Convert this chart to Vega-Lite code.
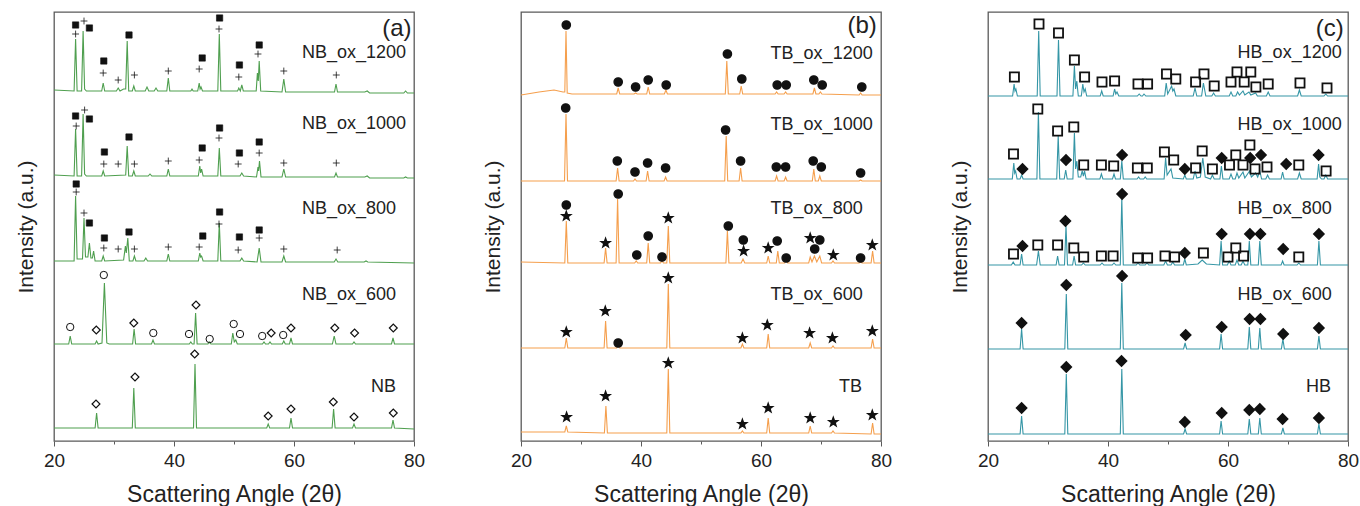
{
"$schema": "https://vega.github.io/schema/vega-lite/v6.json",
"padding": {"left": 14, "top": 11, "right": 0, "bottom": 0},
"bounds": "flush",
"spacing": 107,
"config": {
 "font": "Liberation Sans",
 "view": {"stroke": "#5a5a5a", "strokeWidth": 1.3},
 "axis": {"grid": false, "labelFontSize": 19, "titleFontSize": 23, "titleFontWeight": "normal", "labelColor": "#222", "titleColor": "#222", "tickColor": "#5a5a5a", "domainColor": "#5a5a5a"}
},
"datasets": {
 "aLines": [
  {"s":"1200","x":20,"y":351},{"s":"1200","x":23.35,"y":350},{"s":"1200","x":23.6,"y":402},{"s":"1200","x":23.85,"y":350},{"s":"1200","x":24.6,"y":350},{"s":"1200","x":24.85,"y":410},{"s":"1200","x":25.1,"y":352},{"s":"1200","x":25.4,"y":350},{"s":"1200","x":27.95,"y":350},{"s":"1200","x":28.2,"y":358},{"s":"1200","x":28.45,"y":350},{"s":"1200","x":30.4,"y":350},{"s":"1200","x":30.7,"y":353},{"s":"1200","x":31.0,"y":350},{"s":"1200","x":31.6,"y":352},{"s":"1200","x":31.95,"y":352},{"s":"1200","x":32.2,"y":400},{"s":"1200","x":32.45,"y":350},{"s":"1200","x":33.05,"y":350},{"s":"1200","x":33.3,"y":355},{"s":"1200","x":33.55,"y":350},{"s":"1200","x":35.2,"y":350},{"s":"1200","x":35.5,"y":354},{"s":"1200","x":35.8,"y":350},{"s":"1200","x":36.7,"y":350},{"s":"1200","x":37.0,"y":353},{"s":"1200","x":37.3,"y":350},{"s":"1200","x":38.8,"y":350},{"s":"1200","x":39.05,"y":363},{"s":"1200","x":39.3,"y":350},{"s":"1200","x":42.8,"y":350},{"s":"1200","x":43.0,"y":352},{"s":"1200","x":43.2,"y":350},{"s":"1200","x":43.95,"y":350},{"s":"1200","x":44.2,"y":358},{"s":"1200","x":44.35,"y":352},{"s":"1200","x":44.5,"y":354},{"s":"1200","x":44.75,"y":350},{"s":"1200","x":47.3,"y":350},{"s":"1200","x":47.55,"y":407},{"s":"1200","x":47.8,"y":350},{"s":"1200","x":50.6,"y":350},{"s":"1200","x":50.8,"y":353},{"s":"1200","x":51.05,"y":350},{"s":"1200","x":51.3,"y":356},{"s":"1200","x":51.55,"y":350},{"s":"1200","x":53.7,"y":350},{"s":"1200","x":53.9,"y":368},{"s":"1200","x":54.05,"y":360},{"s":"1200","x":54.2,"y":380},{"s":"1200","x":54.45,"y":350},{"s":"1200","x":58.0,"y":349},{"s":"1200","x":58.3,"y":362},{"s":"1200","x":58.6,"y":349},{"s":"1200","x":66.75,"y":349},{"s":"1200","x":67.0,"y":357},{"s":"1200","x":67.25,"y":349},{"s":"1200","x":71.8,"y":349},{"s":"1200","x":72.2,"y":350},{"s":"1200","x":72.6,"y":348},{"s":"1200","x":78.3,"y":348},{"s":"1200","x":78.6,"y":350},{"s":"1200","x":78.9,"y":348},{"s":"1200","x":80,"y":348},
  {"s":"1000","x":20,"y":266},{"s":"1000","x":23.35,"y":265},{"s":"1000","x":23.6,"y":312},{"s":"1000","x":23.85,"y":265},{"s":"1000","x":24.6,"y":265},{"s":"1000","x":24.85,"y":327},{"s":"1000","x":25.1,"y":267},{"s":"1000","x":25.4,"y":265},{"s":"1000","x":27.95,"y":265},{"s":"1000","x":28.2,"y":270},{"s":"1000","x":28.45,"y":265},{"s":"1000","x":31.95,"y":266},{"s":"1000","x":32.2,"y":295},{"s":"1000","x":32.45,"y":265},{"s":"1000","x":33.05,"y":265},{"s":"1000","x":33.3,"y":270},{"s":"1000","x":33.55,"y":265},{"s":"1000","x":35.7,"y":265},{"s":"1000","x":36.0,"y":267},{"s":"1000","x":36.3,"y":265},{"s":"1000","x":38.8,"y":265},{"s":"1000","x":39.05,"y":272},{"s":"1000","x":39.3,"y":265},{"s":"1000","x":44.05,"y":265},{"s":"1000","x":44.3,"y":275},{"s":"1000","x":44.45,"y":268},{"s":"1000","x":44.6,"y":272},{"s":"1000","x":44.85,"y":265},{"s":"1000","x":47.3,"y":265},{"s":"1000","x":47.55,"y":293},{"s":"1000","x":47.8,"y":265},{"s":"1000","x":51.0,"y":265},{"s":"1000","x":51.3,"y":268},{"s":"1000","x":51.6,"y":265},{"s":"1000","x":53.75,"y":264},{"s":"1000","x":54.0,"y":274},{"s":"1000","x":54.1,"y":270},{"s":"1000","x":54.25,"y":280},{"s":"1000","x":54.5,"y":264},{"s":"1000","x":58.0,"y":264},{"s":"1000","x":58.3,"y":272},{"s":"1000","x":58.6,"y":264},{"s":"1000","x":66.75,"y":264},{"s":"1000","x":67.0,"y":268},{"s":"1000","x":67.25,"y":264},{"s":"1000","x":71.8,"y":264},{"s":"1000","x":72.2,"y":265},{"s":"1000","x":72.6,"y":263},{"s":"1000","x":78.3,"y":263},{"s":"1000","x":78.6,"y":264},{"s":"1000","x":78.9,"y":263},{"s":"1000","x":80,"y":263},
  {"s":"800","x":20,"y":180},{"s":"800","x":23.35,"y":180},{"s":"800","x":23.6,"y":245},{"s":"800","x":23.85,"y":182},{"s":"800","x":24.75,"y":182},{"s":"800","x":25.0,"y":223},{"s":"800","x":25.25,"y":184},{"s":"800","x":25.65,"y":184},{"s":"800","x":25.9,"y":198},{"s":"800","x":26.15,"y":183},{"s":"800","x":26.4,"y":183},{"s":"800","x":26.6,"y":190},{"s":"800","x":26.85,"y":180},{"s":"800","x":27.95,"y":180},{"s":"800","x":28.2,"y":185},{"s":"800","x":28.45,"y":180},{"s":"800","x":31.6,"y":181},{"s":"800","x":31.9,"y":195},{"s":"800","x":32.05,"y":188},{"s":"800","x":32.3,"y":203},{"s":"800","x":32.55,"y":180},{"s":"800","x":33.15,"y":180},{"s":"800","x":33.4,"y":185},{"s":"800","x":33.65,"y":180},{"s":"800","x":35.0,"y":180},{"s":"800","x":35.3,"y":183},{"s":"800","x":35.6,"y":180},{"s":"800","x":38.8,"y":180},{"s":"800","x":39.05,"y":187},{"s":"800","x":39.3,"y":180},{"s":"800","x":44.05,"y":180},{"s":"800","x":44.3,"y":188},{"s":"800","x":44.45,"y":184},{"s":"800","x":44.6,"y":185},{"s":"800","x":44.85,"y":180},{"s":"800","x":47.3,"y":180},{"s":"800","x":47.55,"y":218},{"s":"800","x":47.8,"y":180},{"s":"800","x":51.0,"y":180},{"s":"800","x":51.3,"y":183},{"s":"800","x":51.6,"y":180},{"s":"800","x":53.85,"y":179},{"s":"800","x":54.2,"y":193},{"s":"800","x":54.5,"y":179},{"s":"800","x":58.0,"y":179},{"s":"800","x":58.3,"y":185},{"s":"800","x":58.6,"y":179},{"s":"800","x":66.7,"y":179},{"s":"800","x":67.0,"y":182},{"s":"800","x":67.3,"y":179},{"s":"800","x":71.7,"y":179},{"s":"800","x":72.0,"y":180},{"s":"800","x":72.3,"y":179},{"s":"800","x":80,"y":178},
  {"s":"600","x":20,"y":97},{"s":"600","x":22.45,"y":97},{"s":"600","x":22.7,"y":105},{"s":"600","x":22.95,"y":97},{"s":"600","x":26.85,"y":97},{"s":"600","x":27.1,"y":100},{"s":"600","x":27.35,"y":97},{"s":"600","x":28.0,"y":98},{"s":"600","x":28.4,"y":158},{"s":"600","x":28.8,"y":98},{"s":"600","x":29.2,"y":97},{"s":"600","x":33.1,"y":97},{"s":"600","x":33.35,"y":112},{"s":"600","x":33.6,"y":97},{"s":"600","x":36.25,"y":97},{"s":"600","x":36.5,"y":101},{"s":"600","x":36.75,"y":97},{"s":"600","x":42.55,"y":97},{"s":"600","x":42.8,"y":99},{"s":"600","x":43.05,"y":97},{"s":"600","x":43.35,"y":97},{"s":"600","x":43.6,"y":128},{"s":"600","x":43.85,"y":97},{"s":"600","x":45.65,"y":97},{"s":"600","x":45.9,"y":99},{"s":"600","x":46.15,"y":97},{"s":"600","x":49.55,"y":97},{"s":"600","x":49.8,"y":108},{"s":"600","x":50.05,"y":99},{"s":"600","x":50.3,"y":101},{"s":"600","x":50.55,"y":97},{"s":"600","x":54.75,"y":97},{"s":"600","x":55.0,"y":99},{"s":"600","x":55.25,"y":97},{"s":"600","x":55.75,"y":97},{"s":"600","x":56.0,"y":99},{"s":"600","x":56.25,"y":97},{"s":"600","x":58.05,"y":97},{"s":"600","x":58.3,"y":100},{"s":"600","x":58.55,"y":97},{"s":"600","x":59.25,"y":97},{"s":"600","x":59.5,"y":103},{"s":"600","x":59.75,"y":97},{"s":"600","x":66.4,"y":97},{"s":"600","x":66.7,"y":105},{"s":"600","x":67.0,"y":97},{"s":"600","x":69.75,"y":97},{"s":"600","x":70.0,"y":99},{"s":"600","x":70.25,"y":97},{"s":"600","x":76.25,"y":97},{"s":"600","x":76.5,"y":103},{"s":"600","x":76.75,"y":97},{"s":"600","x":80,"y":97},
  {"s":"0","x":20,"y":13},{"s":"0","x":26.85,"y":13},{"s":"0","x":27.1,"y":28},{"s":"0","x":27.35,"y":13},{"s":"0","x":33.05,"y":13},{"s":"0","x":33.3,"y":53},{"s":"0","x":33.55,"y":13},{"s":"0","x":43.25,"y":13},{"s":"0","x":43.5,"y":77},{"s":"0","x":43.75,"y":13},{"s":"0","x":55.45,"y":13},{"s":"0","x":55.7,"y":17},{"s":"0","x":55.95,"y":13},{"s":"0","x":59.25,"y":13},{"s":"0","x":59.5,"y":23},{"s":"0","x":59.75,"y":13},{"s":"0","x":66.35,"y":13},{"s":"0","x":66.6,"y":32},{"s":"0","x":66.85,"y":13},{"s":"0","x":69.75,"y":13},{"s":"0","x":70.0,"y":17},{"s":"0","x":70.25,"y":13},{"s":"0","x":76.25,"y":13},{"s":"0","x":76.5,"y":21},{"s":"0","x":76.75,"y":13},{"s":"0","x":80,"y":12}
 ],
 "aMarks": [
  {"x":23.6,"y":416,"m":"sq"},{"x":23.6,"y":407,"m":"plus"},{"x":25.0,"y":420,"m":"plus"},{"x":25.9,"y":413,"m":"sq"},{"x":28.3,"y":380,"m":"sq"},{"x":28.2,"y":368,"m":"plus"},{"x":30.7,"y":361,"m":"plus"},{"x":32.5,"y":406,"m":"sq"},{"x":33.4,"y":366,"m":"plus"},{"x":39.05,"y":370,"m":"plus"},{"x":44.7,"y":383,"m":"sq"},{"x":44.2,"y":372,"m":"plus"},{"x":47.6,"y":423,"m":"sq"},{"x":47.5,"y":412,"m":"plus"},{"x":50.9,"y":376,"m":"sq"},{"x":50.8,"y":364,"m":"plus"},{"x":54.2,"y":396,"m":"sq"},{"x":54.0,"y":387,"m":"plus"},{"x":58.3,"y":370,"m":"plus"},{"x":67.05,"y":366,"m":"plus"},
  {"x":23.6,"y":325,"m":"sq"},{"x":23.7,"y":315,"m":"plus"},{"x":25.1,"y":331,"m":"plus"},{"x":25.9,"y":322,"m":"sq"},{"x":28.4,"y":289,"m":"sq"},{"x":28.3,"y":277,"m":"plus"},{"x":30.7,"y":277,"m":"plus"},{"x":32.5,"y":304,"m":"sq"},{"x":33.4,"y":277,"m":"plus"},{"x":39.05,"y":280,"m":"plus"},{"x":44.7,"y":293,"m":"sq"},{"x":44.2,"y":281,"m":"plus"},{"x":47.6,"y":313,"m":"sq"},{"x":47.5,"y":303,"m":"plus"},{"x":50.9,"y":288,"m":"sq"},{"x":50.7,"y":277,"m":"plus"},{"x":54.2,"y":299,"m":"sq"},{"x":54.2,"y":288,"m":"plus"},{"x":58.3,"y":278,"m":"plus"},{"x":67.05,"y":278,"m":"plus"},
  {"x":23.7,"y":257,"m":"sq"},{"x":23.7,"y":249,"m":"plus"},{"x":25.0,"y":228,"m":"plus"},{"x":25.9,"y":218,"m":"sq"},{"x":28.4,"y":203,"m":"sq"},{"x":28.3,"y":193,"m":"plus"},{"x":30.7,"y":192,"m":"plus"},{"x":32.5,"y":209,"m":"sq"},{"x":33.4,"y":192,"m":"plus"},{"x":39.05,"y":194,"m":"plus"},{"x":44.8,"y":205,"m":"sq"},{"x":44.2,"y":194,"m":"plus"},{"x":47.6,"y":229,"m":"sq"},{"x":47.5,"y":217,"m":"plus"},{"x":50.9,"y":204,"m":"sq"},{"x":50.7,"y":191,"m":"plus"},{"x":54.2,"y":211,"m":"sq"},{"x":54.2,"y":203,"m":"plus"},{"x":58.3,"y":192,"m":"plus"},{"x":67.2,"y":191,"m":"plus"},
  {"x":22.7,"y":114,"m":"oc"},{"x":27.05,"y":111,"m":"od"},{"x":28.3,"y":166,"m":"oc"},{"x":33.3,"y":118,"m":"od"},{"x":36.55,"y":108,"m":"oc"},{"x":42.5,"y":107,"m":"oc"},{"x":43.67,"y":136,"m":"od"},{"x":45.95,"y":102,"m":"oc"},{"x":49.95,"y":117,"m":"oc"},{"x":51.0,"y":107,"m":"oc"},{"x":54.7,"y":105,"m":"oc"},{"x":56.2,"y":108,"m":"od"},{"x":58.2,"y":106,"m":"oc"},{"x":59.5,"y":113,"m":"od"},{"x":66.8,"y":113,"m":"od"},{"x":70.1,"y":108,"m":"od"},{"x":76.55,"y":113,"m":"od"},
  {"x":27.0,"y":37,"m":"od"},{"x":33.5,"y":64,"m":"od"},{"x":43.45,"y":87,"m":"od"},{"x":55.7,"y":25,"m":"od"},{"x":59.5,"y":32,"m":"od"},{"x":66.55,"y":39,"m":"od"},{"x":70.0,"y":24,"m":"od"},{"x":76.55,"y":28,"m":"od"}
 ],
 "aText": [
  {"x":61.33,"y":388,"t":"NB_ox_1200"},{"x":61.33,"y":317,"t":"NB_ox_1000"},{"x":61.33,"y":232,"t":"NB_ox_800"},{"x":61.33,"y":146,"t":"NB_ox_600"},{"x":72.83,"y":54,"t":"NB"}
 ],
 "bLines": [
  {"s":"1200","x":20,"y":346},{"s":"1200","x":23,"y":349},{"s":"1200","x":25.5,"y":351},{"s":"1200","x":27.0,"y":349},{"s":"1200","x":27.3,"y":349},{"s":"1200","x":27.5,"y":410},{"s":"1200","x":27.7,"y":348},{"s":"1200","x":28.5,"y":347},{"s":"1200","x":35.95,"y":347},{"s":"1200","x":36.2,"y":353},{"s":"1200","x":36.45,"y":347},{"s":"1200","x":38.85,"y":347},{"s":"1200","x":39.1,"y":348},{"s":"1200","x":39.35,"y":347},{"s":"1200","x":40.95,"y":347},{"s":"1200","x":41.2,"y":354},{"s":"1200","x":41.45,"y":347},{"s":"1200","x":43.9,"y":347},{"s":"1200","x":44.15,"y":351},{"s":"1200","x":44.4,"y":347},{"s":"1200","x":54.05,"y":347},{"s":"1200","x":54.3,"y":380},{"s":"1200","x":54.55,"y":347},{"s":"1200","x":56.45,"y":347},{"s":"1200","x":56.7,"y":355},{"s":"1200","x":56.95,"y":347},{"s":"1200","x":62.35,"y":347},{"s":"1200","x":62.6,"y":349},{"s":"1200","x":62.85,"y":347},{"s":"1200","x":63.85,"y":347},{"s":"1200","x":64.1,"y":349},{"s":"1200","x":64.35,"y":347},{"s":"1200","x":68.65,"y":347},{"s":"1200","x":68.9,"y":353},{"s":"1200","x":69.15,"y":347},{"s":"1200","x":69.65,"y":347},{"s":"1200","x":69.9,"y":349},{"s":"1200","x":70.15,"y":347},{"s":"1200","x":76.35,"y":346},{"s":"1200","x":76.6,"y":348},{"s":"1200","x":76.85,"y":346},{"s":"1200","x":80,"y":346},
  {"s":"1000","x":20,"y":260},{"s":"1000","x":27.25,"y":260},{"s":"1000","x":27.5,"y":327},{"s":"1000","x":27.75,"y":260},{"s":"1000","x":35.85,"y":260},{"s":"1000","x":36.1,"y":273},{"s":"1000","x":36.35,"y":260},{"s":"1000","x":38.75,"y":260},{"s":"1000","x":39.0,"y":262},{"s":"1000","x":39.25,"y":260},{"s":"1000","x":40.85,"y":260},{"s":"1000","x":41.1,"y":270},{"s":"1000","x":41.35,"y":260},{"s":"1000","x":43.85,"y":260},{"s":"1000","x":44.1,"y":264},{"s":"1000","x":44.35,"y":260},{"s":"1000","x":53.95,"y":260},{"s":"1000","x":54.2,"y":305},{"s":"1000","x":54.45,"y":260},{"s":"1000","x":56.35,"y":260},{"s":"1000","x":56.6,"y":273},{"s":"1000","x":56.85,"y":260},{"s":"1000","x":62.35,"y":260},{"s":"1000","x":62.6,"y":265},{"s":"1000","x":62.85,"y":260},{"s":"1000","x":63.85,"y":260},{"s":"1000","x":64.1,"y":264},{"s":"1000","x":64.35,"y":260},{"s":"1000","x":68.55,"y":260},{"s":"1000","x":68.8,"y":272},{"s":"1000","x":69.05,"y":260},{"s":"1000","x":69.55,"y":260},{"s":"1000","x":69.8,"y":265},{"s":"1000","x":70.05,"y":260},{"s":"1000","x":76.35,"y":260},{"s":"1000","x":76.6,"y":261},{"s":"1000","x":76.85,"y":260},{"s":"1000","x":80,"y":260},
  {"s":"800","x":20,"y":179},{"s":"800","x":27.3,"y":178},{"s":"800","x":27.55,"y":220},{"s":"800","x":27.8,"y":178},{"s":"800","x":33.85,"y":178},{"s":"800","x":34.1,"y":193},{"s":"800","x":34.35,"y":178},{"s":"800","x":35.85,"y":178},{"s":"800","x":36.1,"y":242},{"s":"800","x":36.35,"y":178},{"s":"800","x":38.95,"y":178},{"s":"800","x":39.2,"y":180},{"s":"800","x":39.45,"y":178},{"s":"800","x":40.95,"y":178},{"s":"800","x":41.2,"y":198},{"s":"800","x":41.45,"y":178},{"s":"800","x":43.25,"y":178},{"s":"800","x":43.5,"y":180},{"s":"800","x":43.75,"y":178},{"s":"800","x":44.3,"y":178},{"s":"800","x":44.55,"y":215},{"s":"800","x":44.8,"y":178},{"s":"800","x":54.15,"y":178},{"s":"800","x":54.4,"y":210},{"s":"800","x":54.65,"y":178},{"s":"800","x":56.7,"y":178},{"s":"800","x":57.0,"y":182},{"s":"800","x":57.3,"y":178},{"s":"800","x":60.95,"y":178},{"s":"800","x":61.2,"y":185},{"s":"800","x":61.45,"y":178},{"s":"800","x":62.55,"y":178},{"s":"800","x":62.8,"y":190},{"s":"800","x":63.05,"y":178},{"s":"800","x":63.95,"y":178},{"s":"800","x":64.2,"y":181},{"s":"800","x":64.45,"y":178},{"s":"800","x":67.95,"y":178},{"s":"800","x":68.2,"y":184},{"s":"800","x":68.5,"y":179},{"s":"800","x":68.9,"y":185},{"s":"800","x":69.3,"y":179},{"s":"800","x":69.8,"y":185},{"s":"800","x":70.1,"y":178},{"s":"800","x":71.75,"y":178},{"s":"800","x":72.0,"y":180},{"s":"800","x":72.25,"y":178},{"s":"800","x":76.35,"y":178},{"s":"800","x":76.6,"y":179},{"s":"800","x":76.85,"y":178},{"s":"800","x":78.35,"y":178},{"s":"800","x":78.6,"y":190},{"s":"800","x":78.85,"y":178},{"s":"800","x":80,"y":178},
  {"s":"600","x":20,"y":93},{"s":"600","x":27.3,"y":93},{"s":"600","x":27.55,"y":103},{"s":"600","x":27.8,"y":93},{"s":"600","x":33.85,"y":93},{"s":"600","x":34.1,"y":120},{"s":"600","x":34.35,"y":93},{"s":"600","x":35.95,"y":93},{"s":"600","x":36.2,"y":95},{"s":"600","x":36.45,"y":93},{"s":"600","x":44.3,"y":93},{"s":"600","x":44.55,"y":157},{"s":"600","x":44.8,"y":93},{"s":"600","x":56.65,"y":93},{"s":"600","x":56.9,"y":97},{"s":"600","x":57.15,"y":93},{"s":"600","x":60.95,"y":93},{"s":"600","x":61.2,"y":107},{"s":"600","x":61.45,"y":93},{"s":"600","x":67.95,"y":93},{"s":"600","x":68.2,"y":98},{"s":"600","x":68.45,"y":93},{"s":"600","x":71.75,"y":93},{"s":"600","x":72.0,"y":95},{"s":"600","x":72.25,"y":93},{"s":"600","x":78.35,"y":93},{"s":"600","x":78.6,"y":102},{"s":"600","x":78.85,"y":93},{"s":"600","x":80,"y":93},
  {"s":"0","x":20,"y":9},{"s":"0","x":27.3,"y":9},{"s":"0","x":27.55,"y":15},{"s":"0","x":27.8,"y":9},{"s":"0","x":33.9,"y":8},{"s":"0","x":34.15,"y":35},{"s":"0","x":34.4,"y":8},{"s":"0","x":44.3,"y":8},{"s":"0","x":44.55,"y":72},{"s":"0","x":44.8,"y":8},{"s":"0","x":56.65,"y":8},{"s":"0","x":56.9,"y":10},{"s":"0","x":57.15,"y":8},{"s":"0","x":60.95,"y":8},{"s":"0","x":61.2,"y":23},{"s":"0","x":61.45,"y":8},{"s":"0","x":67.95,"y":8},{"s":"0","x":68.2,"y":15},{"s":"0","x":68.45,"y":8},{"s":"0","x":71.75,"y":8},{"s":"0","x":72.0,"y":10},{"s":"0","x":72.25,"y":8},{"s":"0","x":78.35,"y":7},{"s":"0","x":78.6,"y":18},{"s":"0","x":78.85,"y":7},{"s":"0","x":80,"y":7}
 ],
 "bMarks": [
  {"x":27.55,"y":416,"m":"fc"},{"x":36.2,"y":359,"m":"fc"},{"x":39.1,"y":354,"m":"fc"},{"x":41.2,"y":361,"m":"fc"},{"x":44.2,"y":356,"m":"fc"},{"x":54.4,"y":387,"m":"fc"},{"x":56.8,"y":362,"m":"fc"},{"x":62.7,"y":356,"m":"fc"},{"x":64.2,"y":356,"m":"fc"},{"x":68.8,"y":361,"m":"fc"},{"x":70.2,"y":356,"m":"fc"},{"x":76.8,"y":354,"m":"fc"},
  {"x":27.45,"y":333,"m":"fc"},{"x":36.05,"y":280,"m":"fc"},{"x":39.0,"y":269,"m":"fc"},{"x":41.1,"y":278,"m":"fc"},{"x":44.1,"y":273,"m":"fc"},{"x":54.1,"y":311,"m":"fc"},{"x":56.6,"y":280,"m":"fc"},{"x":62.55,"y":274,"m":"fc"},{"x":64.1,"y":274,"m":"fc"},{"x":68.7,"y":280,"m":"fc"},{"x":70.05,"y":274,"m":"fc"},{"x":76.6,"y":268,"m":"fc"},
  {"x":27.55,"y":236,"m":"fc"},{"x":27.55,"y":225,"m":"star"},{"x":34.1,"y":198,"m":"star"},{"x":36.2,"y":247,"m":"fc"},{"x":39.3,"y":186,"m":"fc"},{"x":41.2,"y":205,"m":"fc"},{"x":43.5,"y":184,"m":"fc"},{"x":44.55,"y":223,"m":"star"},{"x":54.55,"y":215,"m":"fc"},{"x":57.05,"y":201,"m":"fc"},{"x":57.1,"y":190,"m":"star"},{"x":61.2,"y":193,"m":"star"},{"x":62.7,"y":200,"m":"fc"},{"x":64.2,"y":183,"m":"fc"},{"x":68.2,"y":203,"m":"star"},{"x":69.8,"y":201,"m":"fc"},{"x":68.95,"y":192,"m":"fc"},{"x":72.05,"y":186,"m":"star"},{"x":76.6,"y":183,"m":"fc"},{"x":78.55,"y":196,"m":"star"},
  {"x":27.55,"y":109,"m":"star"},{"x":34.05,"y":130,"m":"star"},{"x":36.2,"y":98,"m":"fc"},{"x":44.55,"y":163,"m":"star"},{"x":56.9,"y":103,"m":"star"},{"x":61.05,"y":116,"m":"star"},{"x":68.1,"y":108,"m":"star"},{"x":71.9,"y":103,"m":"star"},{"x":78.55,"y":110,"m":"star"},
  {"x":27.6,"y":24,"m":"star"},{"x":34.1,"y":45,"m":"star"},{"x":44.55,"y":78,"m":"star"},{"x":56.9,"y":17,"m":"star"},{"x":61.2,"y":33,"m":"star"},{"x":68.2,"y":23,"m":"star"},{"x":72.05,"y":19,"m":"star"},{"x":78.55,"y":26,"m":"star"}
 ],
 "bText": [
  {"x":61.6,"y":387,"t":"TB_ox_1200"},{"x":61.6,"y":316,"t":"TB_ox_1000"},{"x":61.6,"y":232,"t":"TB_ox_800"},{"x":61.6,"y":146,"t":"TB_ox_600"},{"x":73.0,"y":54,"t":"TB"}
 ],
 "cLines": [
  {"s":"1200","x":20,"y":345},{"s":"1200","x":24.1,"y":345},{"s":"1200","x":24.35,"y":357},{"s":"1200","x":24.5,"y":350},{"s":"1200","x":24.65,"y":352},{"s":"1200","x":24.9,"y":345},{"s":"1200","x":28.2,"y":345},{"s":"1200","x":28.45,"y":410},{"s":"1200","x":28.7,"y":345},{"s":"1200","x":31.5,"y":345},{"s":"1200","x":31.75,"y":401},{"s":"1200","x":32.0,"y":345},{"s":"1200","x":34.15,"y":345},{"s":"1200","x":34.4,"y":375},{"s":"1200","x":34.6,"y":352},{"s":"1200","x":34.8,"y":360},{"s":"1200","x":35.05,"y":345},{"s":"1200","x":35.55,"y":345},{"s":"1200","x":35.8,"y":357},{"s":"1200","x":36.0,"y":349},{"s":"1200","x":36.2,"y":352},{"s":"1200","x":36.45,"y":345},{"s":"1200","x":38.7,"y":345},{"s":"1200","x":38.95,"y":350},{"s":"1200","x":39.2,"y":345},{"s":"1200","x":40.85,"y":345},{"s":"1200","x":41.1,"y":352},{"s":"1200","x":41.3,"y":347},{"s":"1200","x":41.5,"y":349},{"s":"1200","x":41.8,"y":345},{"s":"1200","x":44.9,"y":345},{"s":"1200","x":45.2,"y":347},{"s":"1200","x":45.5,"y":345},{"s":"1200","x":45.75,"y":345},{"s":"1200","x":46.0,"y":347},{"s":"1200","x":46.3,"y":345},{"s":"1200","x":49.45,"y":345},{"s":"1200","x":49.7,"y":358},{"s":"1200","x":49.95,"y":347},{"s":"1200","x":50.6,"y":355},{"s":"1200","x":50.8,"y":350},{"s":"1200","x":51.0,"y":352},{"s":"1200","x":51.3,"y":345},{"s":"1200","x":54.2,"y":345},{"s":"1200","x":54.5,"y":353},{"s":"1200","x":54.8,"y":345},{"s":"1200","x":55.6,"y":345},{"s":"1200","x":55.9,"y":358},{"s":"1200","x":56.3,"y":345},{"s":"1200","x":57.3,"y":345},{"s":"1200","x":57.6,"y":348},{"s":"1200","x":57.9,"y":345},{"s":"1200","x":60.2,"y":345},{"s":"1200","x":60.5,"y":349},{"s":"1200","x":60.8,"y":345},{"s":"1200","x":61.3,"y":345},{"s":"1200","x":61.6,"y":349},{"s":"1200","x":61.9,"y":346},{"s":"1200","x":62.5,"y":350},{"s":"1200","x":62.8,"y":346},{"s":"1200","x":63.5,"y":349},{"s":"1200","x":63.8,"y":346},{"s":"1200","x":64.6,"y":348},{"s":"1200","x":64.9,"y":345},{"s":"1200","x":66.4,"y":345},{"s":"1200","x":66.7,"y":349},{"s":"1200","x":67.0,"y":345},{"s":"1200","x":71.6,"y":345},{"s":"1200","x":71.9,"y":351},{"s":"1200","x":72.2,"y":345},{"s":"1200","x":76.0,"y":345},{"s":"1200","x":76.3,"y":347},{"s":"1200","x":76.6,"y":345},{"s":"1200","x":80,"y":345},
  {"s":"1000","x":20,"y":262},{"s":"1000","x":24.05,"y":262},{"s":"1000","x":24.3,"y":278},{"s":"1000","x":24.45,"y":268},{"s":"1000","x":24.6,"y":270},{"s":"1000","x":24.85,"y":262},{"s":"1000","x":25.35,"y":262},{"s":"1000","x":25.6,"y":266},{"s":"1000","x":25.85,"y":262},{"s":"1000","x":28.15,"y":262},{"s":"1000","x":28.4,"y":329},{"s":"1000","x":28.65,"y":262},{"s":"1000","x":31.45,"y":262},{"s":"1000","x":31.7,"y":305},{"s":"1000","x":31.95,"y":262},{"s":"1000","x":32.7,"y":262},{"s":"1000","x":32.95,"y":271},{"s":"1000","x":33.2,"y":262},{"s":"1000","x":34.15,"y":262},{"s":"1000","x":34.4,"y":308},{"s":"1000","x":34.6,"y":272},{"s":"1000","x":34.8,"y":280},{"s":"1000","x":35.05,"y":264},{"s":"1000","x":35.45,"y":264},{"s":"1000","x":35.7,"y":270},{"s":"1000","x":35.9,"y":265},{"s":"1000","x":36.1,"y":270},{"s":"1000","x":36.35,"y":262},{"s":"1000","x":38.65,"y":262},{"s":"1000","x":38.9,"y":267},{"s":"1000","x":39.15,"y":262},{"s":"1000","x":40.75,"y":262},{"s":"1000","x":41.0,"y":267},{"s":"1000","x":41.25,"y":262},{"s":"1000","x":42.05,"y":262},{"s":"1000","x":42.3,"y":280},{"s":"1000","x":42.55,"y":262},{"s":"1000","x":44.85,"y":262},{"s":"1000","x":45.1,"y":264},{"s":"1000","x":45.35,"y":262},{"s":"1000","x":45.95,"y":262},{"s":"1000","x":46.2,"y":264},{"s":"1000","x":46.45,"y":262},{"s":"1000","x":49.35,"y":262},{"s":"1000","x":49.6,"y":283},{"s":"1000","x":49.85,"y":266},{"s":"1000","x":50.5,"y":272},{"s":"1000","x":50.8,"y":263},{"s":"1000","x":52.55,"y":262},{"s":"1000","x":52.8,"y":266},{"s":"1000","x":53.05,"y":262},{"s":"1000","x":54.2,"y":262},{"s":"1000","x":54.5,"y":270},{"s":"1000","x":54.8,"y":263},{"s":"1000","x":55.4,"y":264},{"s":"1000","x":55.8,"y":283},{"s":"1000","x":56.2,"y":264},{"s":"1000","x":57.1,"y":262},{"s":"1000","x":57.4,"y":266},{"s":"1000","x":57.7,"y":262},{"s":"1000","x":58.65,"y":262},{"s":"1000","x":58.9,"y":275},{"s":"1000","x":59.15,"y":262},{"s":"1000","x":60.2,"y":262},{"s":"1000","x":60.5,"y":267},{"s":"1000","x":60.8,"y":262},{"s":"1000","x":61.2,"y":262},{"s":"1000","x":61.5,"y":268},{"s":"1000","x":61.8,"y":263},{"s":"1000","x":62.5,"y":269},{"s":"1000","x":62.8,"y":263},{"s":"1000","x":63.6,"y":270},{"s":"1000","x":63.9,"y":264},{"s":"1000","x":64.6,"y":268},{"s":"1000","x":64.95,"y":264},{"s":"1000","x":65.3,"y":270},{"s":"1000","x":65.6,"y":262},{"s":"1000","x":66.3,"y":262},{"s":"1000","x":66.6,"y":266},{"s":"1000","x":66.9,"y":262},{"s":"1000","x":68.85,"y":262},{"s":"1000","x":69.1,"y":269},{"s":"1000","x":69.35,"y":262},{"s":"1000","x":71.6,"y":262},{"s":"1000","x":71.9,"y":268},{"s":"1000","x":72.2,"y":262},{"s":"1000","x":74.85,"y":262},{"s":"1000","x":75.1,"y":277},{"s":"1000","x":75.3,"y":264},{"s":"1000","x":75.6,"y":262},{"s":"1000","x":76.0,"y":262},{"s":"1000","x":76.3,"y":266},{"s":"1000","x":76.6,"y":262},{"s":"1000","x":80,"y":262},
  {"s":"800","x":20,"y":176},{"s":"800","x":23.9,"y":176},{"s":"800","x":24.2,"y":179},{"s":"800","x":24.5,"y":176},{"s":"800","x":25.35,"y":176},{"s":"800","x":25.6,"y":187},{"s":"800","x":25.85,"y":176},{"s":"800","x":28.1,"y":176},{"s":"800","x":28.4,"y":190},{"s":"800","x":28.7,"y":176},{"s":"800","x":31.35,"y":176},{"s":"800","x":31.6,"y":185},{"s":"800","x":31.85,"y":176},{"s":"800","x":32.75,"y":176},{"s":"800","x":33.0,"y":215},{"s":"800","x":33.25,"y":176},{"s":"800","x":34.1,"y":176},{"s":"800","x":34.35,"y":185},{"s":"800","x":34.6,"y":176},{"s":"800","x":35.6,"y":176},{"s":"800","x":35.9,"y":178},{"s":"800","x":36.2,"y":176},{"s":"800","x":38.7,"y":176},{"s":"800","x":39.0,"y":178},{"s":"800","x":39.3,"y":176},{"s":"800","x":40.7,"y":176},{"s":"800","x":41.0,"y":178},{"s":"800","x":41.3,"y":176},{"s":"800","x":42.05,"y":176},{"s":"800","x":42.3,"y":243},{"s":"800","x":42.55,"y":176},{"s":"800","x":44.7,"y":176},{"s":"800","x":45.0,"y":178},{"s":"800","x":45.3,"y":176},{"s":"800","x":46.2,"y":176},{"s":"800","x":46.5,"y":178},{"s":"800","x":46.8,"y":176},{"s":"800","x":49.3,"y":176},{"s":"800","x":49.6,"y":180},{"s":"800","x":49.9,"y":176},{"s":"800","x":50.5,"y":176},{"s":"800","x":50.8,"y":179},{"s":"800","x":51.1,"y":176},{"s":"800","x":52.55,"y":176},{"s":"800","x":52.8,"y":182},{"s":"800","x":53.05,"y":176},{"s":"800","x":55.0,"y":177},{"s":"800","x":55.7,"y":181},{"s":"800","x":56.4,"y":177},{"s":"800","x":58.6,"y":176},{"s":"800","x":58.85,"y":200},{"s":"800","x":59.1,"y":176},{"s":"800","x":59.9,"y":176},{"s":"800","x":60.2,"y":180},{"s":"800","x":60.5,"y":176},{"s":"800","x":61.2,"y":176},{"s":"800","x":61.5,"y":181},{"s":"800","x":61.8,"y":176},{"s":"800","x":62.2,"y":176},{"s":"800","x":62.5,"y":180},{"s":"800","x":62.8,"y":176},{"s":"800","x":63.3,"y":176},{"s":"800","x":63.55,"y":200},{"s":"800","x":63.8,"y":176},{"s":"800","x":65.05,"y":176},{"s":"800","x":65.3,"y":200},{"s":"800","x":65.55,"y":176},{"s":"800","x":68.85,"y":176},{"s":"800","x":69.1,"y":180},{"s":"800","x":69.35,"y":176},{"s":"800","x":71.5,"y":176},{"s":"800","x":71.8,"y":178},{"s":"800","x":72.1,"y":176},{"s":"800","x":74.9,"y":176},{"s":"800","x":75.15,"y":200},{"s":"800","x":75.4,"y":176},{"s":"800","x":80,"y":176},
  {"s":"600","x":20,"y":92},{"s":"600","x":25.35,"y":92},{"s":"600","x":25.6,"y":112},{"s":"600","x":25.85,"y":92},{"s":"600","x":32.8,"y":92},{"s":"600","x":33.05,"y":147},{"s":"600","x":33.3,"y":92},{"s":"600","x":42.05,"y":92},{"s":"600","x":42.3,"y":158},{"s":"600","x":42.55,"y":92},{"s":"600","x":52.6,"y":92},{"s":"600","x":52.85,"y":98},{"s":"600","x":53.1,"y":92},{"s":"600","x":58.6,"y":92},{"s":"600","x":58.85,"y":107},{"s":"600","x":59.1,"y":92},{"s":"600","x":63.3,"y":92},{"s":"600","x":63.55,"y":114},{"s":"600","x":63.8,"y":92},{"s":"600","x":65.05,"y":92},{"s":"600","x":65.3,"y":113},{"s":"600","x":65.55,"y":92},{"s":"600","x":68.9,"y":92},{"s":"600","x":69.15,"y":102},{"s":"600","x":69.4,"y":92},{"s":"600","x":74.9,"y":92},{"s":"600","x":75.15,"y":105},{"s":"600","x":75.4,"y":92},{"s":"600","x":80,"y":92},
  {"s":"0","x":20,"y":7},{"s":"0","x":25.35,"y":7},{"s":"0","x":25.6,"y":25},{"s":"0","x":25.85,"y":7},{"s":"0","x":32.8,"y":7},{"s":"0","x":33.05,"y":67},{"s":"0","x":33.3,"y":7},{"s":"0","x":42.05,"y":7},{"s":"0","x":42.3,"y":72},{"s":"0","x":42.55,"y":7},{"s":"0","x":52.6,"y":7},{"s":"0","x":52.85,"y":12},{"s":"0","x":53.1,"y":7},{"s":"0","x":58.6,"y":7},{"s":"0","x":58.85,"y":20},{"s":"0","x":59.1,"y":7},{"s":"0","x":63.3,"y":7},{"s":"0","x":63.55,"y":22},{"s":"0","x":63.8,"y":7},{"s":"0","x":65.05,"y":7},{"s":"0","x":65.3,"y":23},{"s":"0","x":65.55,"y":7},{"s":"0","x":68.9,"y":7},{"s":"0","x":69.15,"y":13},{"s":"0","x":69.4,"y":7},{"s":"0","x":74.9,"y":7},{"s":"0","x":75.15,"y":17},{"s":"0","x":75.4,"y":7},{"s":"0","x":80,"y":7}
 ],
 "cMarks": [
  {"x":24.4,"y":364,"m":"os"},{"x":28.5,"y":417,"m":"os"},{"x":31.75,"y":408,"m":"os"},{"x":34.4,"y":381,"m":"os"},{"x":36.1,"y":364,"m":"os"},{"x":39.0,"y":359,"m":"os"},{"x":41.1,"y":360,"m":"os"},{"x":45.0,"y":357,"m":"os"},{"x":46.6,"y":357,"m":"os"},{"x":49.75,"y":367,"m":"os"},{"x":51.3,"y":362,"m":"os"},{"x":54.6,"y":359,"m":"os"},{"x":56.0,"y":367,"m":"os"},{"x":57.7,"y":355,"m":"os"},{"x":60.5,"y":359,"m":"os"},{"x":61.5,"y":369,"m":"os"},{"x":62.7,"y":359,"m":"os"},{"x":63.8,"y":369,"m":"os"},{"x":64.65,"y":354,"m":"os"},{"x":66.7,"y":357,"m":"os"},{"x":72.0,"y":358,"m":"os"},{"x":76.5,"y":353,"m":"os"},
  {"x":24.25,"y":287,"m":"os"},{"x":25.75,"y":272,"m":"fd"},{"x":28.3,"y":332,"m":"os"},{"x":31.6,"y":310,"m":"os"},{"x":33.0,"y":281,"m":"fd"},{"x":34.3,"y":314,"m":"os"},{"x":35.95,"y":276,"m":"os"},{"x":38.9,"y":276,"m":"os"},{"x":40.95,"y":275,"m":"os"},{"x":42.35,"y":286,"m":"fd"},{"x":44.9,"y":273,"m":"os"},{"x":46.55,"y":273,"m":"os"},{"x":49.4,"y":289,"m":"os"},{"x":50.95,"y":281,"m":"os"},{"x":52.8,"y":272,"m":"fd"},{"x":54.6,"y":273,"m":"os"},{"x":55.7,"y":290,"m":"os"},{"x":57.4,"y":272,"m":"os"},{"x":58.95,"y":283,"m":"fd"},{"x":60.25,"y":276,"m":"os"},{"x":61.3,"y":286,"m":"os"},{"x":62.5,"y":276,"m":"os"},{"x":63.65,"y":296,"m":"os"},{"x":63.7,"y":283,"m":"fd"},{"x":64.5,"y":272,"m":"os"},{"x":65.5,"y":286,"m":"fd"},{"x":66.5,"y":274,"m":"os"},{"x":69.7,"y":277,"m":"fd"},{"x":71.8,"y":276,"m":"os"},{"x":75.1,"y":286,"m":"fd"},{"x":76.35,"y":270,"m":"os"},
  {"x":32.9,"y":220,"m":"fd"},{"x":42.35,"y":247,"m":"fd"},{"x":58.95,"y":207,"m":"fd"},{"x":63.65,"y":207,"m":"fd"},{"x":65.4,"y":207,"m":"fd"},{"x":75.15,"y":207,"m":"fd"},{"x":24.25,"y":187,"m":"os"},{"x":25.75,"y":195,"m":"fd"},{"x":28.3,"y":196,"m":"os"},{"x":31.6,"y":196,"m":"os"},{"x":34.3,"y":193,"m":"os"},{"x":35.95,"y":184,"m":"os"},{"x":38.9,"y":185,"m":"os"},{"x":40.85,"y":185,"m":"os"},{"x":44.95,"y":183,"m":"os"},{"x":46.6,"y":183,"m":"os"},{"x":49.5,"y":185,"m":"os"},{"x":51.1,"y":184,"m":"os"},{"x":52.8,"y":188,"m":"fd"},{"x":55.9,"y":188,"m":"os"},{"x":60.0,"y":184,"m":"os"},{"x":61.3,"y":193,"m":"os"},{"x":62.6,"y":185,"m":"os"},{"x":69.2,"y":192,"m":"fd"},{"x":71.8,"y":184,"m":"os"},
  {"x":25.6,"y":118,"m":"fd"},{"x":33.05,"y":156,"m":"fd"},{"x":42.35,"y":165,"m":"fd"},{"x":52.95,"y":106,"m":"fd"},{"x":58.95,"y":114,"m":"fd"},{"x":63.6,"y":122,"m":"fd"},{"x":65.4,"y":122,"m":"fd"},{"x":69.2,"y":107,"m":"fd"},{"x":75.15,"y":113,"m":"fd"},
  {"x":25.6,"y":33,"m":"fd"},{"x":33.05,"y":74,"m":"fd"},{"x":42.25,"y":80,"m":"fd"},{"x":52.8,"y":19,"m":"fd"},{"x":58.95,"y":28,"m":"fd"},{"x":63.55,"y":31,"m":"fd"},{"x":65.3,"y":32,"m":"fd"},{"x":69.1,"y":22,"m":"fd"},{"x":75.15,"y":23,"m":"fd"}
 ],
 "cText": [
  {"x":61.6,"y":388,"t":"HB_ox_1200"},{"x":61.6,"y":316,"t":"HB_ox_1000"},{"x":61.6,"y":232,"t":"HB_ox_800"},{"x":61.6,"y":146,"t":"HB_ox_600"},{"x":73.0,"y":54,"t":"HB"}
 ]
},
"hconcat": [
 {
  "width": 360, "height": 429,
  "encoding": {
   "x": {"field": "x", "type": "quantitative", "scale": {"domain": [20, 80], "nice": false, "zero": false}, "axis": {"title": "Scattering Angle (2θ)", "values": [20, 30, 40, 50, 60, 70, 80], "labelExpr": "datum.value % 20 === 0 ? datum.label : ''", "tickSize": {"condition": {"test": "datum.value % 20 === 0", "value": 5}, "value": 3}, "domain": false, "labelFlush": false, "labelOverlap": false, "labelPadding": 5, "titlePadding": 13}},
   "y": {"field": "y", "type": "quantitative", "scale": {"domain": [0, 429], "nice": false, "zero": false}, "axis": {"title": "Intensity (a.u.)", "labels": false, "ticks": false, "domain": false, "grid": false, "titlePadding": 18, "titleFontSize": 21}}
  },
  "layer": [
   {"data": {"name": "aLines"}, "mark": {"type": "line", "color": "#4f9f4f", "strokeWidth": 1.1}, "encoding": {"detail": {"field": "s", "type": "nominal"}}},
   {"data": {"name": "aMarks"}, "mark": {"type": "point", "filled": true, "stroke": "#111", "opacity": 1},
    "encoding": {
     "shape": {"field": "m", "type": "nominal", "legend": null, "scale": {"domain": ["sq","plus","oc","od","fc","star","os","fd"], "range": ["square","M-1,0L1,0M0,-1L0,1","circle","diamond","circle","M0,-1L0.235,-0.324L0.951,-0.309L0.38,0.124L0.588,0.809L0,0.4L-0.588,0.809L-0.38,0.124L-0.951,-0.309L-0.235,-0.324Z","square","diamond"]}},
     "fill": {"field": "m", "type": "nominal", "legend": null, "scale": {"domain": ["sq","plus","oc","od","fc","star","os","fd"], "range": ["#111","transparent","transparent","transparent","#111","#111","transparent","#111"]}},
     "size": {"field": "m", "type": "nominal", "legend": null, "scale": {"domain": ["sq","plus","oc","od","fc","star","os","fd"], "range": [40,90,42,68,50,85,36,72]}},
     "strokeWidth": {"field": "m", "type": "nominal", "legend": null, "scale": {"domain": ["sq","plus","oc","od","fc","star","os","fd"], "range": [0.6,2,1.8,2.4,0.6,0.5,1.8,0.6]}}
    }},
   {"data": {"name": "aText"}, "mark": {"type": "text", "align": "left", "baseline": "middle", "fontSize": 18, "color": "#222"}, "encoding": {"text": {"field": "t"}}},
   {"data": {"values": [{"x": 79.6, "y": 412, "t": "(a)"}]}, "mark": {"type": "text", "align": "right", "baseline": "middle", "fontSize": 24, "color": "#222"}, "encoding": {"text": {"field": "t"}}}
  ]
 },
 {
  "width": 360, "height": 429,
  "encoding": {
   "x": {"field": "x", "type": "quantitative", "scale": {"domain": [20, 80], "nice": false, "zero": false}, "axis": {"title": "Scattering Angle (2θ)", "values": [20, 30, 40, 50, 60, 70, 80], "labelExpr": "datum.value % 20 === 0 ? datum.label : ''", "tickSize": {"condition": {"test": "datum.value % 20 === 0", "value": 5}, "value": 3}, "domain": false, "labelFlush": false, "labelOverlap": false, "labelPadding": 5, "titlePadding": 13}},
   "y": {"field": "y", "type": "quantitative", "scale": {"domain": [0, 429], "nice": false, "zero": false}, "axis": {"title": "Intensity (a.u.)", "labels": false, "ticks": false, "domain": false, "grid": false, "titlePadding": 18, "titleFontSize": 21}}
  },
  "layer": [
   {"data": {"name": "bLines"}, "mark": {"type": "line", "color": "#f59f4d", "strokeWidth": 1.1}, "encoding": {"detail": {"field": "s", "type": "nominal"}}},
   {"data": {"name": "bMarks"}, "mark": {"type": "point", "filled": true, "stroke": "#111", "opacity": 1},
    "encoding": {
     "shape": {"field": "m", "type": "nominal", "legend": null, "scale": {"domain": ["sq","plus","oc","od","fc","star","os","fd"], "range": ["square","M-1,0L1,0M0,-1L0,1","circle","diamond","circle","M0,-1L0.235,-0.324L0.951,-0.309L0.38,0.124L0.588,0.809L0,0.4L-0.588,0.809L-0.38,0.124L-0.951,-0.309L-0.235,-0.324Z","square","diamond"]}},
     "fill": {"field": "m", "type": "nominal", "legend": null, "scale": {"domain": ["sq","plus","oc","od","fc","star","os","fd"], "range": ["#111","transparent","transparent","transparent","#111","#111","transparent","#111"]}},
     "size": {"field": "m", "type": "nominal", "legend": null, "scale": {"domain": ["sq","plus","oc","od","fc","star","os","fd"], "range": [40,90,42,68,50,85,36,72]}},
     "strokeWidth": {"field": "m", "type": "nominal", "legend": null, "scale": {"domain": ["sq","plus","oc","od","fc","star","os","fd"], "range": [0.6,2,1.8,2.4,0.6,0.5,1.8,0.6]}}
    }},
   {"data": {"name": "bText"}, "mark": {"type": "text", "align": "left", "baseline": "middle", "fontSize": 18, "color": "#222"}, "encoding": {"text": {"field": "t"}}},
   {"data": {"values": [{"x": 79.3, "y": 415, "t": "(b)"}]}, "mark": {"type": "text", "align": "right", "baseline": "middle", "fontSize": 24, "color": "#222"}, "encoding": {"text": {"field": "t"}}}
  ]
 },
 {
  "width": 360, "height": 429,
  "encoding": {
   "x": {"field": "x", "type": "quantitative", "scale": {"domain": [20, 80], "nice": false, "zero": false}, "axis": {"title": "Scattering Angle (2θ)", "values": [20, 30, 40, 50, 60, 70, 80], "labelExpr": "datum.value % 20 === 0 ? datum.label : ''", "tickSize": {"condition": {"test": "datum.value % 20 === 0", "value": 5}, "value": 3}, "domain": false, "labelFlush": false, "labelOverlap": false, "labelPadding": 5, "titlePadding": 13}},
   "y": {"field": "y", "type": "quantitative", "scale": {"domain": [0, 429], "nice": false, "zero": false}, "axis": {"title": "Intensity (a.u.)", "labels": false, "ticks": false, "domain": false, "grid": false, "titlePadding": 18, "titleFontSize": 21}}
  },
  "layer": [
   {"data": {"name": "cLines"}, "mark": {"type": "line", "color": "#3596a6", "strokeWidth": 1.1}, "encoding": {"detail": {"field": "s", "type": "nominal"}}},
   {"data": {"name": "cMarks"}, "mark": {"type": "point", "filled": true, "stroke": "#111", "opacity": 1},
    "encoding": {
     "shape": {"field": "m", "type": "nominal", "legend": null, "scale": {"domain": ["sq","plus","oc","od","fc","star","os","fd"], "range": ["square","M-1,0L1,0M0,-1L0,1","circle","diamond","circle","M0,-1L0.235,-0.324L0.951,-0.309L0.38,0.124L0.588,0.809L0,0.4L-0.588,0.809L-0.38,0.124L-0.951,-0.309L-0.235,-0.324Z","square","diamond"]}},
     "fill": {"field": "m", "type": "nominal", "legend": null, "scale": {"domain": ["sq","plus","oc","od","fc","star","os","fd"], "range": ["#111","transparent","transparent","transparent","#111","#111","transparent","#111"]}},
     "size": {"field": "m", "type": "nominal", "legend": null, "scale": {"domain": ["sq","plus","oc","od","fc","star","os","fd"], "range": [40,90,42,68,50,85,36,72]}},
     "strokeWidth": {"field": "m", "type": "nominal", "legend": null, "scale": {"domain": ["sq","plus","oc","od","fc","star","os","fd"], "range": [0.6,2,1.8,2.4,0.6,0.5,1.8,0.6]}}
    }},
   {"data": {"name": "cText"}, "mark": {"type": "text", "align": "left", "baseline": "middle", "fontSize": 18, "color": "#222"}, "encoding": {"text": {"field": "t"}}},
   {"data": {"values": [{"x": 79.3, "y": 412, "t": "(c)"}]}, "mark": {"type": "text", "align": "right", "baseline": "middle", "fontSize": 24, "color": "#222"}, "encoding": {"text": {"field": "t"}}}
  ]
 }
]
}
